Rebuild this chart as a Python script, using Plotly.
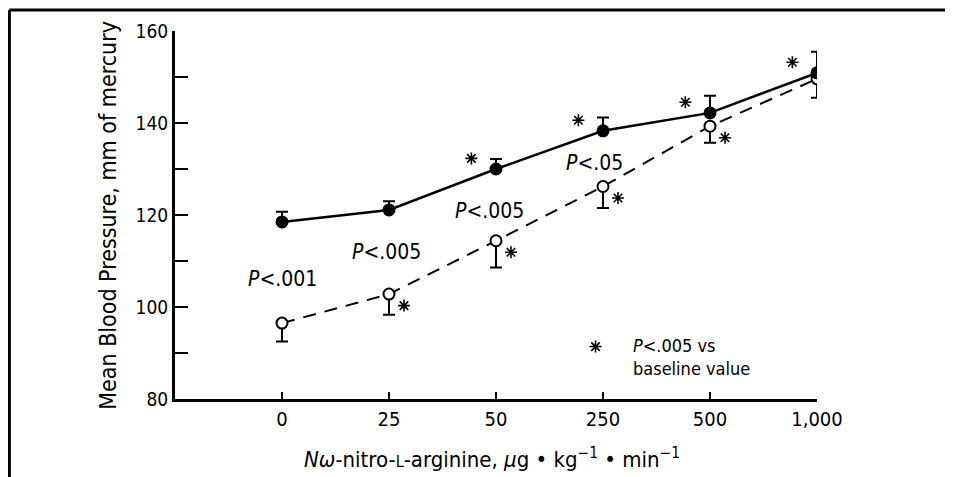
import plotly.graph_objects as go

# ---- data ----
doses = ["0", "25", "50", "250", "500", "1,000"]
filled_mean = [118.5, 121.1, 130.0, 138.3, 142.2, 150.9]
filled_err_up = [2.2, 1.9, 2.2, 2.9, 3.7, 4.6]
open_mean = [96.5, 102.8, 114.4, 126.2, 139.3, 149.6]
open_err_down = [4.0, 4.5, 5.8, 4.7, 3.6, 4.1]
filled_star = [False, False, True, True, True, True]
open_star = [False, True, True, True, True, True]
p_labels = ["<i>P</i>&lt;.001", "<i>P</i>&lt;.005", "<i>P</i>&lt;.005", "<i>P</i>&lt;.05"]

FONT = "DejaVu Sans Condensed, Liberation Sans, Arial, sans-serif"
xs = list(range(len(doses)))
zeros = [0] * len(doses)

fig = go.Figure()

# open circles, dashed line, downward error bars
fig.add_trace(go.Scatter(
    x=xs, y=open_mean, mode="lines+markers",
    line=dict(color="black", width=2, dash="13px,9px"),
    marker=dict(symbol="circle", size=11, color="white", line=dict(color="black", width=2)),
    error_y=dict(type="data", symmetric=False, array=zeros, arrayminus=open_err_down,
                 color="black", thickness=2, width=6),
    showlegend=False, hoverinfo="skip"))

# filled circles, solid line, upward error bars
fig.add_trace(go.Scatter(
    x=xs, y=filled_mean, mode="lines+markers",
    line=dict(color="black", width=2.5),
    marker=dict(symbol="circle", size=13, color="black"),
    error_y=dict(type="data", symmetric=False, array=filled_err_up, arrayminus=zeros,
                 color="black", thickness=2, width=6),
    showlegend=False, hoverinfo="skip"))

# asterisks (significance vs baseline)
fx = [i - 0.23 for i, s in zip(xs, filled_star) if s]
fy = [m + 2.3 for m, s in zip(filled_mean, filled_star) if s]
ox = [i + 0.14 for i, s in zip(xs, open_star) if s]
oy = [m - 2.5 for m, s in zip(open_mean, open_star) if s]
star_marker = dict(symbol="asterisk-open", size=10, color="black", line=dict(color="black", width=1.6))
fig.add_trace(go.Scatter(x=fx + ox, y=fy + oy, mode="markers", marker=star_marker,
                         showlegend=False, hoverinfo="skip"))
# legend asterisk
fig.add_trace(go.Scatter(x=[2.93], y=[91.4], mode="markers", marker=star_marker,
                         showlegend=False, hoverinfo="skip"))

annots = []
p_pos = [(0.0, 106.0), (0.98, 112.0), (1.94, 120.9), (2.92, 131.2)]
for txt, (px, py) in zip(p_labels, p_pos):
    annots.append(dict(x=px, y=py, text=txt, showarrow=False, xref="x", yref="y",
                       font=dict(family=FONT, size=21, color="black")))
annots.append(dict(x=3.26, y=89.1, text="<i>P</i>&lt;.005 vs<br>baseline value", showarrow=False,
                   xref="x", yref="y", xanchor="left", align="left",
                   font=dict(family=FONT, size=18, color="black")))
# axis titles
annots.append(dict(x=-0.128, y=0.5, xref="paper", yref="paper", textangle=-90,
                   text="Mean Blood Pressure, mm of mercury", showarrow=False,
                   font=dict(family=FONT, size=23, color="black")))
annots.append(dict(x=0.494, y=-0.205, xref="paper", yref="paper",
                   text="<i>N</i><i>ω</i>-nitro-<span style='font-size:16px'>L</span>-arginine, <i>μ</i>g • kg<sup>−1</sup> • min<sup>−1</sup>",
                   showarrow=False, font=dict(family=FONT, size=22, color="black")))

# page body adds an 8px margin, so the figure is sized to fill the rest of the window
fig.update_layout(
    width=945, height=469,
    margin=dict(l=167, r=136, t=23, b=78, autoexpand=False),
    paper_bgcolor="white", plot_bgcolor="white",
    font=dict(family=FONT, color="black", size=20),
    annotations=annots,
    shapes=[
        dict(type="line", xref="paper", yref="paper", x0=-0.258, x1=1.25, y0=1.057, y1=1.057,
             line=dict(color="black", width=3)),
        dict(type="line", xref="paper", yref="paper", x0=-0.258, x1=-0.258, y0=1.057, y1=-0.25,
             line=dict(color="black", width=3)),
    ],
)

fig.update_xaxes(
    range=[-1, 5], tickmode="array", tickvals=xs, ticktext=doses, automargin=False,
    showline=True, linecolor="black", linewidth=3, showgrid=False, zeroline=False,
    ticks="inside", ticklen=7, tickwidth=2, tickcolor="black",
    tickfont=dict(family=FONT, size=20),
)
fig.update_yaxes(
    range=[80, 160], tick0=80, dtick=20, automargin=False,
    showline=True, linecolor="black", linewidth=3, showgrid=False, zeroline=False,
    ticks="inside", ticklen=13, tickwidth=2, tickcolor="black",
    minor=dict(dtick=10, ticks="inside", ticklen=13, tickwidth=2, tickcolor="black", showgrid=False),
    tickfont=dict(family=FONT, size=19),
)

fig.write_html("out.html")
